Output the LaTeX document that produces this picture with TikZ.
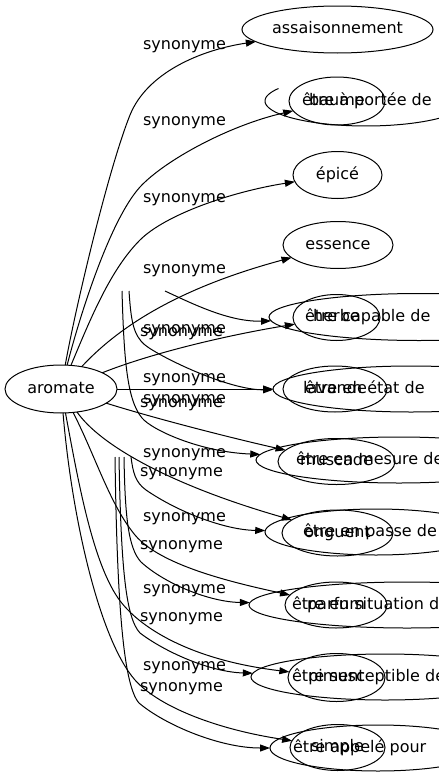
\documentclass[tikz,border=0pt]{standalone}
\usepackage{fontspec}
\setmainfont{DejaVu Sans}
\usetikzlibrary{shapes.geometric,arrows.meta}
\begin{document}
\begin{tikzpicture}[x=1pt,y=-1pt,
  every node/.style={inner sep=0pt, outer sep=0pt, font=\fontsize{16pt}{19pt}\selectfont, text height=11.5pt, text depth=3.5pt},
  ell/.style={draw, ellipse, line width=1pt},
  edge/.style={draw, line width=1pt, -{Triangle[length=10pt,width=7pt]}},
  plain/.style={draw, line width=1pt}]
\useasboundingbox (0,0) rectangle (439,779);
\clip (0,0) rectangle (439,779);
% nodes
\node[ell, minimum width=112pt, minimum height=48pt] (aro) at (61,389) {aromate};
\node[ell, minimum width=191pt, minimum height=47pt] (ass) at (337.5,29.5) {assaisonnement};
\node[ell, minimum width=96pt, minimum height=48pt] (baume) at (337,101) {baume};
\node[anchor=west] (portt) at (302,101) {être à portée de};
\draw[plain] plot[domain=150:380, samples=90, smooth] ({366+101*cos(\x)}, {101-25*sin(\x)});
\node[ell, minimum width=89pt, minimum height=47pt] (epi) at (337.5,175) {épicé};
\node[ell, minimum width=110pt, minimum height=47pt] (ess) at (338,245) {essence};
\node[ell, minimum width=87pt, minimum height=46pt] (herbe) at (336.5,317.5) {herbe};
\node[ell, minimum width=300pt, minimum height=47pt] (cap) at (419,317) {};
\node[anchor=west] (capt) at (305,317) {être capable de};
\node[ell, minimum width=104pt, minimum height=46pt] (lav) at (335,389) {lavande};
\node[ell, minimum width=276pt, minimum height=46pt] (etat) at (411,389) {};
\node[anchor=west] (etatt) at (305,389) {être en état de};
\node[ell, minimum width=117pt, minimum height=46pt] (mus) at (336.5,461.5) {muscade};
\node[ell, minimum width=286pt, minimum height=46pt] (mes) at (399,460) {};
\node[anchor=west] (mest) at (296,460) {être en mesure de};
\node[ell, minimum width=111pt, minimum height=46pt] (ong) at (337.5,533) {onguent};
\node[ell, minimum width=222pt, minimum height=46pt] (pas) at (376,532) {};
\node[anchor=west] (past) at (303,532) {être en passe de};
\node[ell, minimum width=102pt, minimum height=46pt] (parf) at (336,605) {parfum};
\node[ell, minimum width=316pt, minimum height=46pt] (sit) at (407,605) {};
\node[anchor=west] (sitt) at (292,605) {être en situation de};
\node[ell, minimum width=97pt, minimum height=48pt] (pim) at (336.5,677.5) {piment};
\node[ell, minimum width=268pt, minimum height=46pt] (sus) at (385,677) {};
\node[anchor=west] (sust) at (292,677) {être susceptible de};
\node[ell, minimum width=95pt, minimum height=46pt] (simp) at (337.5,747.5) {simple};
\node[ell, minimum width=216pt, minimum height=46pt] (app) at (378,748) {};
\node[anchor=west] (appt) at (293,748) {être appelé pour};
% free ends
\coordinate (f5) at (165,291);
\coordinate (f6) at (129,291);
\coordinate (f7) at (122,291);
\coordinate (f8) at (131,457);
\coordinate (f9) at (124,457);
\coordinate (f10) at (119,457);
\coordinate (f11) at (115,457);
% edges from aromate
\draw[edge] (aro) .. controls (75,310) and (108,170) .. (130,115) .. controls (147,73) and (200,50) .. (ass);
\draw[edge] (aro) .. controls (80,315) and (110,220) .. (140,187) .. controls (165,160) and (230,125) .. (baume);
\draw[edge] (aro) .. controls (90,320) and (110,270) .. (140,240) .. controls (165,215) and (230,192) .. (epi);
\draw[edge] (aro) .. controls (125,320) and (190,285) .. (ess);
\draw[edge] (aro) .. controls (160,350) and (240,333) .. (herbe);
\draw[edge] (aro) -- (etat);
\draw[edge] (aro) .. controls (160,420) and (240,440) .. (mus);
\draw[edge] (aro) .. controls (100,445) and (170,485) .. (ong);
\draw[edge] (aro) .. controls (95,455) and (110,505) .. (135,535) .. controls (160,565) and (230,582) .. (parf);
\draw[edge] (aro) .. controls (78,480) and (92,560) .. (118,598) .. controls (138,627) and (190,660) .. (pim);
\draw[edge] (aro) .. controls (72,520) and (100,640) .. (135,680) .. controls (160,708) and (220,730) .. (simp);
% edges with free start
\draw[edge] (f5) .. controls (195,305) and (230,322) .. (cap);
\draw[edge] (f6) .. controls (131,320) and (133,335) .. (145,345) .. controls (160,357) and (228,390) .. (etat);
\draw[edge] (f7) .. controls (124,360) and (127,400) .. (142,418) .. controls (152,430) and (200,452) .. (mes);
\draw[edge] (f8) .. controls (133,472) and (135,482) .. (146,490) .. controls (178,512) and (225,530) .. (pas);
\draw[edge] (f9) .. controls (125,515) and (128,548) .. (141,562) .. controls (165,584) and (210,602) .. (sit);
\draw[edge] (f10) .. controls (121,570) and (126,618) .. (140,633) .. controls (165,652) and (210,672) .. (sus);
\draw[edge] (f11) .. controls (117,600) and (123,685) .. (139,703) .. controls (165,725) and (220,748) .. (app);
% labels
\node (l1) at (184.5,45) {synonyme};
\node (l2) at (184.5,121) {synonyme};
\node (l3) at (184.5,198) {synonyme};
\node (l4) at (184.5,269) {synonyme};
\node (l5) at (184.5,329) {synonyme};
\node (l6) at (181.5,332) {synonyme};
\node (l7) at (184.5,378) {synonyme};
\node (l8) at (184.5,399) {synonyme};
\node (l9) at (181.5,403) {synonyme};
\node (l10) at (184.5,453) {synonyme};
\node (l11) at (181.5,472) {synonyme};
\node (l12) at (184.5,517) {synonyme};
\node (l13) at (181.5,545) {synonyme};
\node (l14) at (184.5,589) {synonyme};
\node (l15) at (181.5,617) {synonyme};
\node (l16) at (184.5,666) {synonyme};
\node (l17) at (181.5,687) {synonyme};
\end{tikzpicture}
\end{document}
